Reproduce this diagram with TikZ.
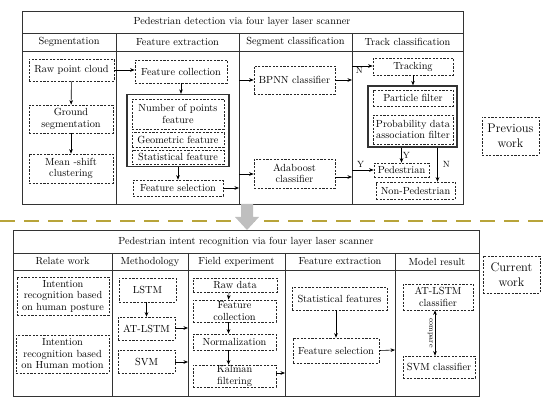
\documentclass[tikz,border=0pt]{standalone}
\usetikzlibrary{arrows.meta,calc}
\begin{document}
\begin{tikzpicture}[x=1pt,y=-1pt,
  font=\fontsize{10.3}{11.5}\selectfont,
  tbl/.style={draw=black!80,line width=0.8pt},
  dbox/.style={draw=black!85,dashed,dash pattern=on 2.2pt off 1.4pt,line width=0.7pt,inner sep=0.5pt,align=center},
  sbox/.style={draw=black!80,line width=1.3pt,inner sep=0pt},
  arr/.style={-{Stealth[length=4.5pt,width=3.6pt]},line width=0.6pt},
  darr/.style={{Stealth[length=4.5pt,width=3.6pt]}-{Stealth[length=4.5pt,width=3.6pt]},line width=0.6pt},
  lbl/.style={font=\fontsize{9}{10}\selectfont,inner sep=1pt},
  big/.style={font=\fontsize{12.5}{14.5}\selectfont}]
\useasboundingbox (0,0) rectangle (550,403);
% ---------- top table ----------
\draw[tbl] (22,11) rectangle (463,204);
\draw[tbl] (22,33) -- (463,33);
\draw[tbl] (22,51) -- (463,51);
\draw[tbl] (116,33) -- (116,204);
\draw[tbl] (239,33) -- (239,204);
\draw[tbl] (352,33) -- (352,204);
\node (t1) at (242,22) {Pedestrian detection via four layer laser scanner};
\node (h1) at (69,42) {Segmentation};
\node (h2) at (177.5,42) {Feature extraction};
\node (h3) at (295.5,42) {Segment classification};
\node (h4) at (407.5,42) {Track classification};
% column 1
\node[dbox,minimum width=85pt,minimum height=22pt] (rpc) at (71.5,70) {Raw point cloud};
\node[dbox,minimum width=84pt,minimum height=28pt] (gs) at (71,119) {Ground\\segmentation};
\node[dbox,minimum width=84pt,minimum height=29pt] (ms) at (71,168.5) {Mean -shift\\clustering};
% column 2
\node[dbox,minimum width=92pt,minimum height=23pt] (fc) at (181,71.5) {Feature collection};
\node[sbox,minimum width=102pt,minimum height=72pt] (sb1) at (178,130.5) {};
\node[dbox,minimum width=92pt,minimum height=30pt] (np) at (178,114) {Number of points\\feature};
\node[dbox,minimum width=92pt,minimum height=15pt] (gf) at (178,139.5) {Geometric feature};
\node[dbox,minimum width=92pt,minimum height=14pt] (sf) at (178,157) {Statistical feature};
\node[dbox,minimum width=90pt,minimum height=16pt] (fs) at (178,188) {Feature selection};
% column 3
\node[dbox,minimum width=81pt,minimum height=28pt] (bp) at (294.5,80) {BPNN classifier};
\node[dbox,minimum width=81pt,minimum height=29pt] (ad) at (294.5,173.5) {Adaboost\\classifier};
% column 4
\node[dbox,minimum width=80pt,minimum height=17pt] (tr) at (413,66.5) {Tracking};
\node[sbox,minimum width=89pt,minimum height=61pt] (sb2) at (412.5,116.5) {};
\node[dbox,minimum width=80pt,minimum height=16pt] (pf) at (413,98) {Particle filter};
\node[dbox,minimum width=80pt,minimum height=29pt] (pd) at (413,129.5) {Probability data\\association filter};
\node[dbox,minimum width=55pt,minimum height=14pt] (pe) at (401.5,170) {Pedestrian};
\node[dbox,minimum width=79pt,minimum height=17pt] (npd) at (415.5,190.5) {Non-Pedestrian};
\node[dbox,big,minimum width=57pt,minimum height=38pt] (prev) at (510.5,136) {Previous\\work};
% divider points
\coordinate (d1a) at (239,188);
\coordinate (d1b) at (239,80);
\coordinate (d1c) at (239,174);
\coordinate (d2a) at (352,80);
\coordinate (d2b) at (352,177);
\coordinate (d2c) at (352,66);
\coordinate (d2d) at (352,170);
% connectors top
\draw[arr] (rpc.east) -- (rpc.east -| fc.west);
\draw[arr] (rpc) -- (gs);
\draw[arr] (gs) -- (ms);
\draw[arr] (fc.south) -- (fc.south |- sb1.north);
\draw[arr] (sb1.south) -- (fs.north);
\draw[arr] (fs.east) -- (d1a);
\draw[arr] (d1b) -- (d1b -| bp.west);
\draw[arr] (d1c) -- (d1c -| ad.west);
\draw[arr] (bp.east) -- (d2a);
\draw[arr] (ad.east |- d2b) -- (d2b);
\draw[arr] (d2c) -- node[lbl,below,pos=0.35] (lN1) {N} (d2c -| tr.west);
\draw[arr] (tr.south) -- (tr.south |- sb2.north);
\draw[arr] (sb2.south -| pe.north) -- node[lbl,right,pos=0.55] (lY2) {Y} (pe.north);
\draw[arr] ([xshift=22pt]npd.north |- sb2.south) -- node[lbl,right,pos=0.5,xshift=4pt] (lN2) {N} ([xshift=22pt]npd.north);
\draw[arr] (d2d) -- node[lbl,above,pos=0.4,yshift=1pt] (lY1) {Y} (d2d -| pe.west);
% ---------- separator ----------
\draw[line width=2pt,color={rgb,255:red,184;green,164;blue,58},dash pattern=on 15pt off 9pt] (0,221) -- (550,221);
\fill[black!25] (241,204) -- (253,204) -- (253,217) -- (259,217) -- (247,230) -- (235,217) -- (241,217) -- cycle;
% ---------- bottom table ----------
\draw[tbl] (13,230) rectangle (479,396);
\draw[tbl] (13,253) -- (479,253);
\draw[tbl] (13,270) -- (479,270);
\draw[tbl] (112,253) -- (112,396);
\draw[tbl] (188,253) -- (188,396);
\draw[tbl] (285,253) -- (285,396);
\draw[tbl] (395,253) -- (395,396);
\node (t2) at (246,241.5) {Pedestrian intent recognition via four layer laser scanner};
\node (g1) at (62.5,261.5) {Relate work};
\node (g2) at (150,261.5) {Methodology};
\node (g3) at (236.5,261.5) {Field experiment};
\node (g4) at (340,261.5) {Feature extraction};
\node (g5) at (437,261.5) {Model result};
\node[dbox,minimum width=92pt,minimum height=38pt] (ir1) at (63,296) {Intention\\recognition based\\on human posture};
\node[dbox,minimum width=93pt,minimum height=38pt] (ir2) at (62.5,354) {Intention\\recognition based\\on Human motion};
\node[dbox,minimum width=57pt,minimum height=24pt] (lstm) at (147.5,290) {LSTM};
\node[dbox,minimum width=57pt,minimum height=23pt] (atl) at (146.5,328.5) {AT-LSTM};
\node[dbox,minimum width=57pt,minimum height=23pt] (svm) at (146.5,361.5) {SVM};
\node[dbox,minimum width=84pt,minimum height=14pt] (rd) at (235,285) {Raw data};
\node[dbox,minimum width=83pt,minimum height=22pt] (fc2) at (234.5,311) {Feature\\collection};
\node[dbox,minimum width=83pt,minimum height=16pt] (nm) at (234.5,342) {Normalization};
\node[dbox,minimum width=83pt,minimum height=22pt] (kf) at (234.5,376) {Kalman\\filtering};
\node[dbox,minimum width=95pt,minimum height=23pt] (stf) at (339.5,298.5) {Statistical features};
\node[dbox,minimum width=86pt,minimum height=25pt] (fs2) at (336,350.5) {Feature selection};
\node[dbox,minimum width=70pt,minimum height=26pt] (atc) at (438,297) {AT-LSTM\\classifier};
\node[dbox,minimum width=72pt,minimum height=22pt] (svc) at (439,367) {SVM classifier};
\node[dbox,big,minimum width=57pt,minimum height=37pt] (cur) at (511.5,274.5) {Current\\work};
\coordinate (e1) at (188,328);
\coordinate (e2) at (188,362);
\coordinate (e3) at (285,373);
\coordinate (e4) at (395,350);
\draw[arr] (lstm.south -| atl.north) -- (atl.north);
\draw[arr] (atl.east |- e1) -- (e1);
\draw[arr] (svm.east |- e2) -- (e2);
\draw[arr] ([xshift=-6pt]rd.south) -- ([xshift=-6pt]fc2.north);
\draw[arr] ([xshift=-6pt]fc2.south) -- ([xshift=-6pt]nm.north);
\draw[arr] ([xshift=-6pt]nm.south) -- ([xshift=-6pt]kf.north);
\draw[arr] (kf.east |- e3) -- (e3);
\draw[arr] (fs2.north |- stf.south) -- (fs2.north);
\draw[arr] (fs2.east) -- (e4);
\draw[darr] ([xshift=-3pt]atc.south) -- node[rotate=-90,anchor=north,font=\fontsize{7.5}{8}\selectfont,inner sep=2pt] (cmp) {compare} ([xshift=-3pt]atc.south |- svc.north);
\end{tikzpicture}
\end{document}
